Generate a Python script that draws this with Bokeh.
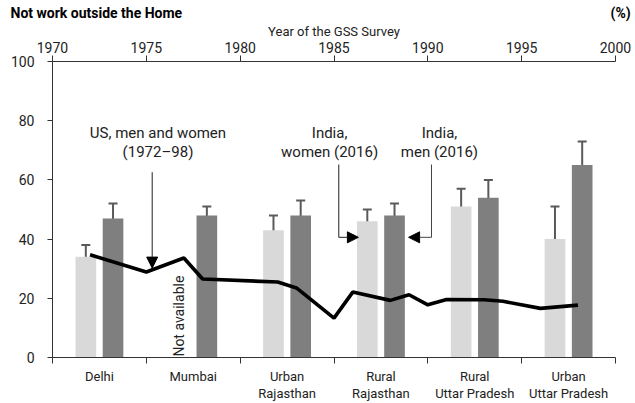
from bokeh.plotting import figure
from bokeh.models import (Range1d, LinearAxis, FixedTicker, ColumnDataSource, Whisker,
                          TeeHead, Arrow, NormalHead, Label, Title)
from bokeh.embed import file_html
from bokeh.resources import INLINE

# ---------------- data ----------------
regions = ["Delhi", "Mumbai", "Urban\nRajasthan", "Rural\nRajasthan",
           "Rural\nUttar Pradesh", "Urban\nUttar Pradesh"]
women = [34, None, 43, 46, 51, 40]
women_lo = [29, None, 39, 42, 45, 29]
women_hi = [38, None, 48, 50, 57, 51]
men = [47, 48, 48, 48, 54, 65]
men_lo = [42, 45, 43, 44, 48, 57]
men_hi = [52, 51, 53, 52, 60, 73]

us_years = [1972, 1975, 1977, 1978, 1982, 1983, 1985, 1986, 1988, 1989,
            1990, 1991, 1993, 1994, 1996, 1998]
us_values = [34.7, 28.9, 33.6, 26.5, 25.5, 23.5, 13.3, 22.1, 19.3, 21.2,
             17.8, 19.6, 19.5, 19.0, 16.6, 17.7]

year_ticks = [1970, 1975, 1980, 1985, 1990, 1995, 2000]
y_ticks = [0, 20, 40, 60, 80, 100]

title_text = "Not work outside the Home"
unit_text = "(%)"

# ---------------- style ----------------
FONT = "Roboto"
LIGHT = "#d9d9d9"
DARK = "#7f7f7f"
ERR = "#5a5a5a"
AXIS = "#333333"
OFF = 0.145
BW = 0.22

n = len(regions)
centers = [i + 0.5 for i in range(n)]

w_idx = [i for i in range(n) if women[i] is not None]
wsrc = ColumnDataSource(dict(
    x=[centers[i] - OFF for i in w_idx],
    top=[women[i] for i in w_idx],
    lo=[women_lo[i] for i in w_idx],
    hi=[women_hi[i] for i in w_idx]))
msrc = ColumnDataSource(dict(
    x=[c + OFF for c in centers], top=men, lo=men_lo, hi=men_hi))

p = figure(width=635, height=403, x_range=Range1d(0, n), y_range=Range1d(0, 100),
           output_backend="svg", toolbar_location=None,
           x_axis_location=None, y_axis_location=None,
           min_border_left=52, min_border_right=20, min_border_top=61,
           min_border_bottom=45)
p.outline_line_color = None
p.xgrid.visible = False
p.ygrid.visible = False
p.background_fill_color = "white"
p.border_fill_color = "white"
p.extra_x_ranges = {"year": Range1d(year_ticks[0], year_ticks[-1])}

# title row: bold title on the left, unit on the right (separated by em spaces)
p.title = Title(text=title_text + "\u2003" * 30 + unit_text, align="left", offset=-42,
                standoff=0, text_font=FONT, text_font_size="14px",
                text_font_style="bold", text_color="black", text_line_height=1.0)

# axes
left = LinearAxis(ticker=FixedTicker(ticks=y_ticks), major_tick_out=5, major_tick_in=0,
                  minor_tick_out=0, minor_tick_in=0, major_label_standoff=13,
                  axis_line_color=AXIS, major_tick_line_color=AXIS,
                  major_label_text_font=FONT, major_label_text_font_size="14px",
                  major_label_text_color="#222222")
p.add_layout(left, "left")

top = LinearAxis(x_range_name="year", ticker=FixedTicker(ticks=year_ticks),
                 major_tick_out=6, major_tick_in=0, minor_tick_out=0, minor_tick_in=0,
                 major_label_standoff=3, axis_line_color=AXIS, major_tick_line_color=AXIS,
                 major_label_text_font=FONT, major_label_text_font_size="14px",
                 major_label_text_color="#222222",
                 axis_label="Year of the GSS Survey", axis_label_text_font=FONT,
                 axis_label_text_font_style="normal", axis_label_text_font_size="13px",
                 axis_label_text_color="#222222", axis_label_standoff=0)
p.add_layout(top, "above")

bottom = LinearAxis(ticker=FixedTicker(ticks=centers, minor_ticks=list(range(n + 1))),
                    major_label_overrides={c: r for c, r in zip(centers, regions)},
                    major_tick_out=0, major_tick_in=0, minor_tick_out=6, minor_tick_in=0,
                    major_label_standoff=5, axis_line_color=AXIS,
                    minor_tick_line_color=AXIS,
                    major_label_text_font=FONT, major_label_text_font_size="13px",
                    major_label_text_color="#222222", major_label_text_line_height=1.15)
p.add_layout(bottom, "below")

# bars
p.vbar(x="x", top="top", width=BW, bottom=0, source=wsrc, fill_color=LIGHT, line_color=None)
p.vbar(x="x", top="top", width=BW, bottom=0, source=msrc, fill_color=DARK, line_color=None)

for src in (wsrc, msrc):
    p.add_layout(Whisker(source=src, base="x", upper="hi", lower="lo", dimension="height",
                         line_color=ERR, line_width=2,
                         upper_head=TeeHead(size=9, line_color=ERR, line_width=2),
                         lower_head=TeeHead(size=9, line_color=ERR, line_width=2)))

# US line
p.line(us_years, us_values, x_range_name="year", line_color="black", line_width=3.6)

# annotations
txt = dict(text_font=FONT, text_font_size="15px", text_color="#222222",
           text_align="center", text_baseline="middle")
p.add_layout(Label(x=1.124, y=75.8, text="US, men and women", **txt))
p.add_layout(Label(x=1.124, y=69.5, text="(1972\u201398)", **txt))
p.add_layout(Label(x=2.953, y=75.8, text="India,", **txt))
p.add_layout(Label(x=2.953, y=69.5, text="women (2016)", **txt))
p.add_layout(Label(x=4.124, y=75.8, text="India,", **txt))
p.add_layout(Label(x=4.124, y=69.5, text="men (2016)", **txt))

head = dict(size=11, fill_color="black", line_color="black", line_width=1)
p.add_layout(Arrow(x_start=1.0625, y_start=62.6, x_end=1.0625, y_end=30.2,
                   line_color="#222222", line_width=1, end=NormalHead(**head)))
p.add_layout(Arrow(x_start=3.051, y_start=65.2, x_end=3.051, y_end=40.6,
                   line_color="#222222", line_width=1, end=None))
p.add_layout(Arrow(x_start=3.051, y_start=40.6, x_end=3.26, y_end=40.6,
                   line_color="#222222", line_width=1, end=NormalHead(**head)))
p.add_layout(Arrow(x_start=4.039, y_start=65.2, x_end=4.039, y_end=40.6,
                   line_color="#444444", line_width=1, end=None))
p.add_layout(Arrow(x_start=4.039, y_start=40.6, x_end=3.795, y_end=40.6,
                   line_color="#444444", line_width=1, end=NormalHead(**head)))

p.add_layout(Label(x=1.343, y=0.3, text="Not available", angle=1.5708,
                   text_font=FONT, text_font_size="14px", text_color="#222222",
                   text_align="left", text_baseline="middle",
                   background_fill_color="white"))

open("out.html", "w").write(file_html(p, INLINE))
